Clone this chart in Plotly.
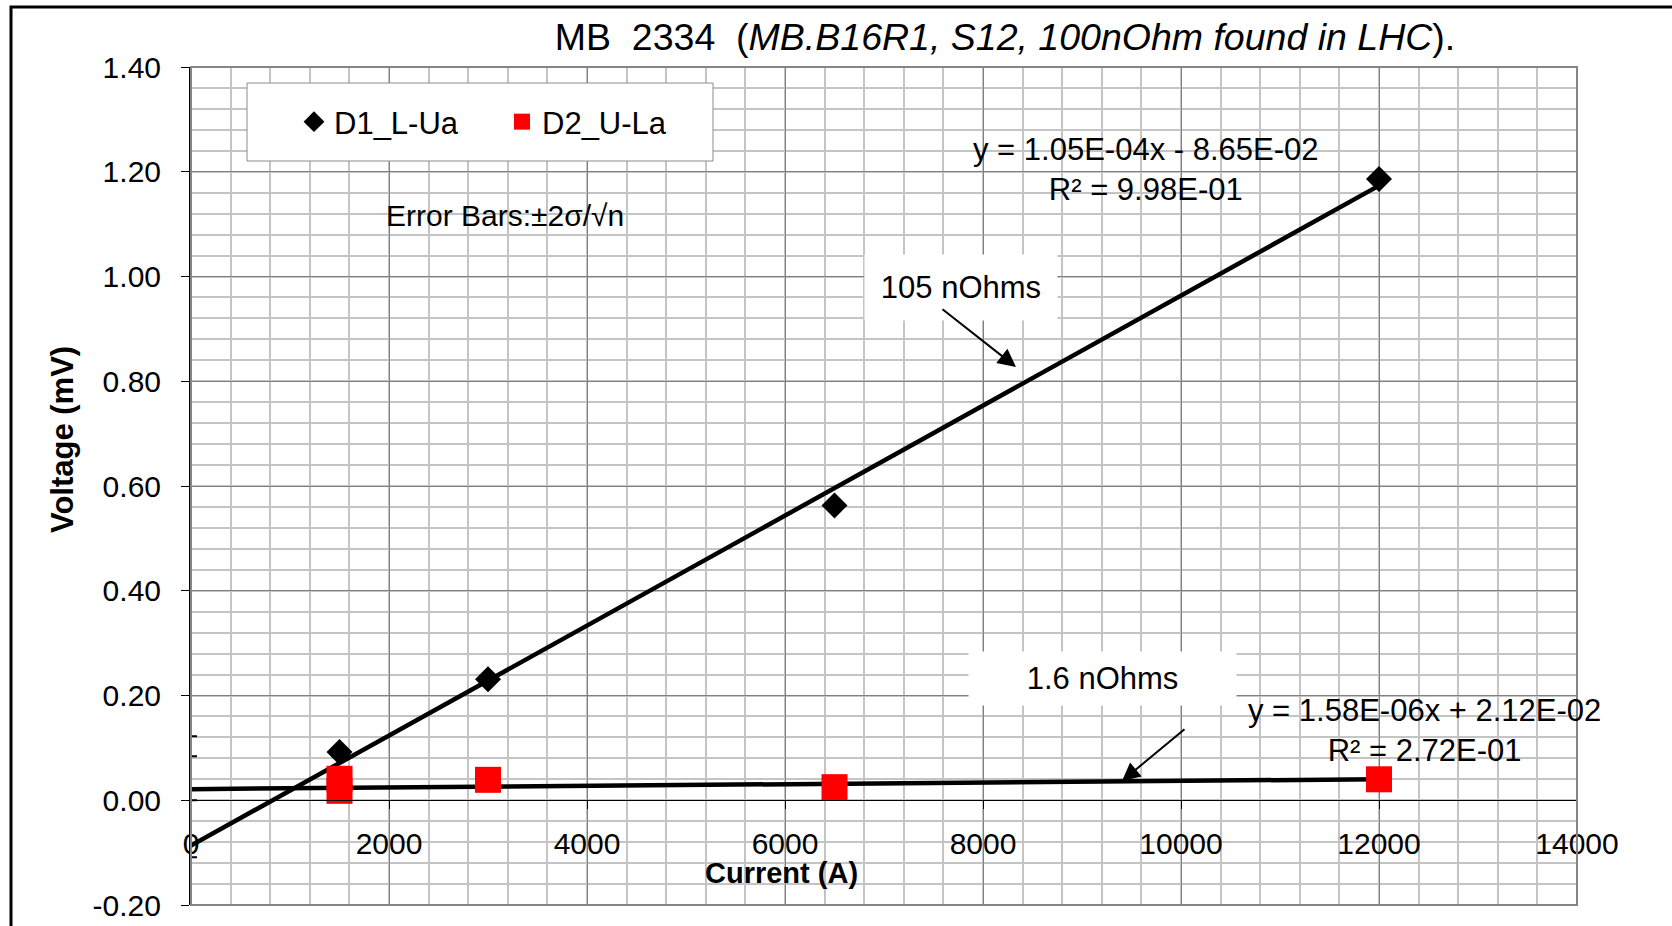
import plotly.graph_objects as go
import numpy as np

# ---------------- data ----------------
CURRENT_D1 = [1500, 3000, 6500, 12000]
VOLT_D1 = [0.092, 0.231, 0.563, 1.186]

CURRENT_D2 = [1500, 1500, 3000, 6500, 12000]
VOLT_D2 = [0.041, 0.018, 0.039, 0.025, 0.040]

FIT_D1 = [1.05e-4, -8.65e-2]   # slope, intercept
FIT_D2 = [1.58e-6, 2.12e-2]
FIT_X = [0, 12000]

ERR_X = [0, 0]
ERR_Y = [0.0065, 0.0]
ERR_PLUS = [0.1155, 0.084]
ERR_MINUS = [0.1155, 0.0]

X_TICKS = [0, 2000, 4000, 6000, 8000, 10000, 12000, 14000]
Y_TICKS = [-0.2, 0.0, 0.2, 0.4, 0.6, 0.8, 1.0, 1.2, 1.4]

FONT = "Liberation Sans, Arial, sans-serif"

fit_x = np.array(FIT_X, dtype=float)

fig = go.Figure()

fig.add_trace(go.Scatter(
    x=fit_x, y=FIT_D1[0] * fit_x + FIT_D1[1], mode="lines",
    line=dict(color="black", width=4.5), showlegend=False, hoverinfo="skip"))
fig.add_trace(go.Scatter(
    x=fit_x, y=FIT_D2[0] * fit_x + FIT_D2[1], mode="lines",
    line=dict(color="black", width=4.5), showlegend=False, hoverinfo="skip"))

fig.add_trace(go.Scatter(
    x=ERR_X, y=ERR_Y, mode="markers", marker=dict(size=1, color="rgba(0,0,0,0)"),
    error_y=dict(type="data", symmetric=False, array=ERR_PLUS, arrayminus=ERR_MINUS,
                 color="black", thickness=2, width=6),
    showlegend=False, hoverinfo="skip"))

fig.add_trace(go.Scatter(
    x=CURRENT_D1, y=VOLT_D1, mode="markers", name="D1_L-Ua",
    marker=dict(symbol="diamond", size=20, color="black")))
fig.add_trace(go.Scatter(
    x=CURRENT_D2, y=VOLT_D2, mode="markers", name="D2_U-La",
    marker=dict(symbol="square", size=26, color="#ff0000")))

fig.update_layout(
    width=1672, height=926,
    margin=dict(l=191, r=95, t=67, b=21, autoexpand=False),
    paper_bgcolor="white", plot_bgcolor="white",
    font=dict(family=FONT, color="black", size=28),
    title=dict(
        text="MB\u00a0\u00a02334\u00a0\u00a0(<i>MB.B16R1, S12, 100nOhm found in LHC</i>).",
        x=1005 / 1672, xanchor="center", xref="container",
        y=1 - 37 / 926, yanchor="middle", yref="container",
        font=dict(size=37.5, family=FONT, color="black")),
    showlegend=True,
    legend=dict(orientation="h", x=(294 - 191) / 1386, xanchor="left",
                y=(905 - 122) / 838, yanchor="middle",
                font=dict(size=31, family=FONT, color="black"),
                bgcolor="rgba(0,0,0,0)", borderwidth=0,
                entrywidth=163, entrywidthmode="pixels",
                itemsizing="trace"),
)

fig.update_xaxes(
    range=[0, 14000], tickvals=X_TICKS, ticktext=[str(v) for v in X_TICKS],
    anchor="free", position=0.125, automargin=False,
    showline=True, linecolor="black", linewidth=1,
    ticks="outside", ticklen=8, tickcolor="black", tickwidth=1,
    ticklabelstandoff=9,
    tickfont=dict(size=30, family=FONT, color="black"),
    showgrid=True, gridcolor="#808080", gridwidth=1,
    minor=dict(dtick=400, showgrid=True, gridcolor="#c4c4c4", gridwidth=2, ticks=""),
    zeroline=False,
)
fig.update_yaxes(
    range=[-0.2, 1.4], tickvals=Y_TICKS, ticktext=["%.2f" % v for v in Y_TICKS],
    automargin=False,
    showline=True, linecolor="black", linewidth=2,
    ticks="outside", ticklen=8, tickcolor="black", tickwidth=1,
    ticklabelstandoff=14,
    tickfont=dict(size=30, family=FONT, color="black"),
    showgrid=True, gridcolor="#808080", gridwidth=1,
    minor=dict(dtick=0.04, showgrid=True, gridcolor="#c4c4c4", gridwidth=2, ticks=""),
    zeroline=False,
)

def px(xp):
    return (xp - 191) / 1386

def py(yp):
    return (905 - yp) / 838

shapes = [
    # plot area border (top/right/bottom)
    dict(type="rect", xref="paper", yref="paper", x0=0, x1=1, y0=0, y1=1,
         line=dict(color="#858585", width=2), fillcolor="rgba(0,0,0,0)", layer="above"),
    # outer chart frame
    dict(type="rect", xref="paper", yref="paper", x0=px(11), x1=px(1690), y0=py(950), y1=py(7),
         line=dict(color="black", width=3), fillcolor="rgba(0,0,0,0)", layer="above"),
    # legend box
    dict(type="rect", xref="paper", yref="paper", x0=px(247), x1=px(713), y0=py(161), y1=py(83),
         line=dict(color="#8c8c8c", width=1), fillcolor="white", layer="above"),
]
fig.update_layout(shapes=shapes)

ann = []
# axis titles
ann.append(dict(text="<b>Voltage (mV)</b>", xref="paper", yref="paper", x=px(62), y=py(440),
                textangle=-90, showarrow=False, font=dict(size=31, family=FONT, color="black"),
                xanchor="center", yanchor="middle"))
ann.append(dict(text="<b>Current (A)</b>", xref="paper", yref="paper", x=px(781), y=py(873),
                showarrow=False, font=dict(size=29, family=FONT, color="black"),
                xanchor="center", yanchor="middle"))
# error bars note
ann.append(dict(text="Error Bars:\u00b12\u03c3/\u221an", xref="paper", yref="paper", x=px(505), y=py(216),
                showarrow=False, font=dict(size=30, family=FONT, color="black"),
                xanchor="center", yanchor="middle"))
# fit equations
ann.append(dict(text="y = 1.05E-04x - 8.65E-02<br>R\u00b2 = 9.98E-01", xref="x", yref="y",
                x=9646, y=1.205, showarrow=False, align="center",
                font=dict(size=31, family=FONT, color="black"),
                xanchor="center", yanchor="middle"))
ann.append(dict(text="y = 1.58E-06x + 2.12E-02<br>R\u00b2 = 2.72E-01", xref="x", yref="y",
                x=12455, y=0.1327, showarrow=False, align="center",
                font=dict(size=31, family=FONT, color="black"),
                xanchor="center", yanchor="middle"))
# resistance labels with white boxes
ann.append(dict(text="105 nOhms", xref="paper", yref="paper", x=px(961), y=py(287),
                showarrow=False, bgcolor="white", width=190, height=63,
                font=dict(size=31, family=FONT, color="black"),
                xanchor="center", yanchor="middle"))
ann.append(dict(text="1.6 nOhms", xref="paper", yref="paper", x=px(1102), y=py(678),
                showarrow=False, bgcolor="white", width=265, height=51,
                font=dict(size=31, family=FONT, color="black"),
                xanchor="center", yanchor="middle"))
# arrows
ann.append(dict(text="", xref="paper", yref="paper", x=px(1016), y=py(367),
                ax=941 - 1016, ay=308 - 367, axref="pixel", ayref="pixel",
                showarrow=True, arrowhead=2, arrowsize=1.8, arrowwidth=2, arrowcolor="black"))
ann.append(dict(text="", xref="paper", yref="paper", x=px(1122), y=py(781),
                ax=1186 - 1122, ay=728 - 781, axref="pixel", ayref="pixel",
                showarrow=True, arrowhead=2, arrowsize=1.8, arrowwidth=2, arrowcolor="black"))
fig.update_layout(annotations=ann)

fig.write_html("out.html", config={"displayModeBar": False},
               post_script="document.body.style.margin='0';document.body.style.overflow='hidden';")
